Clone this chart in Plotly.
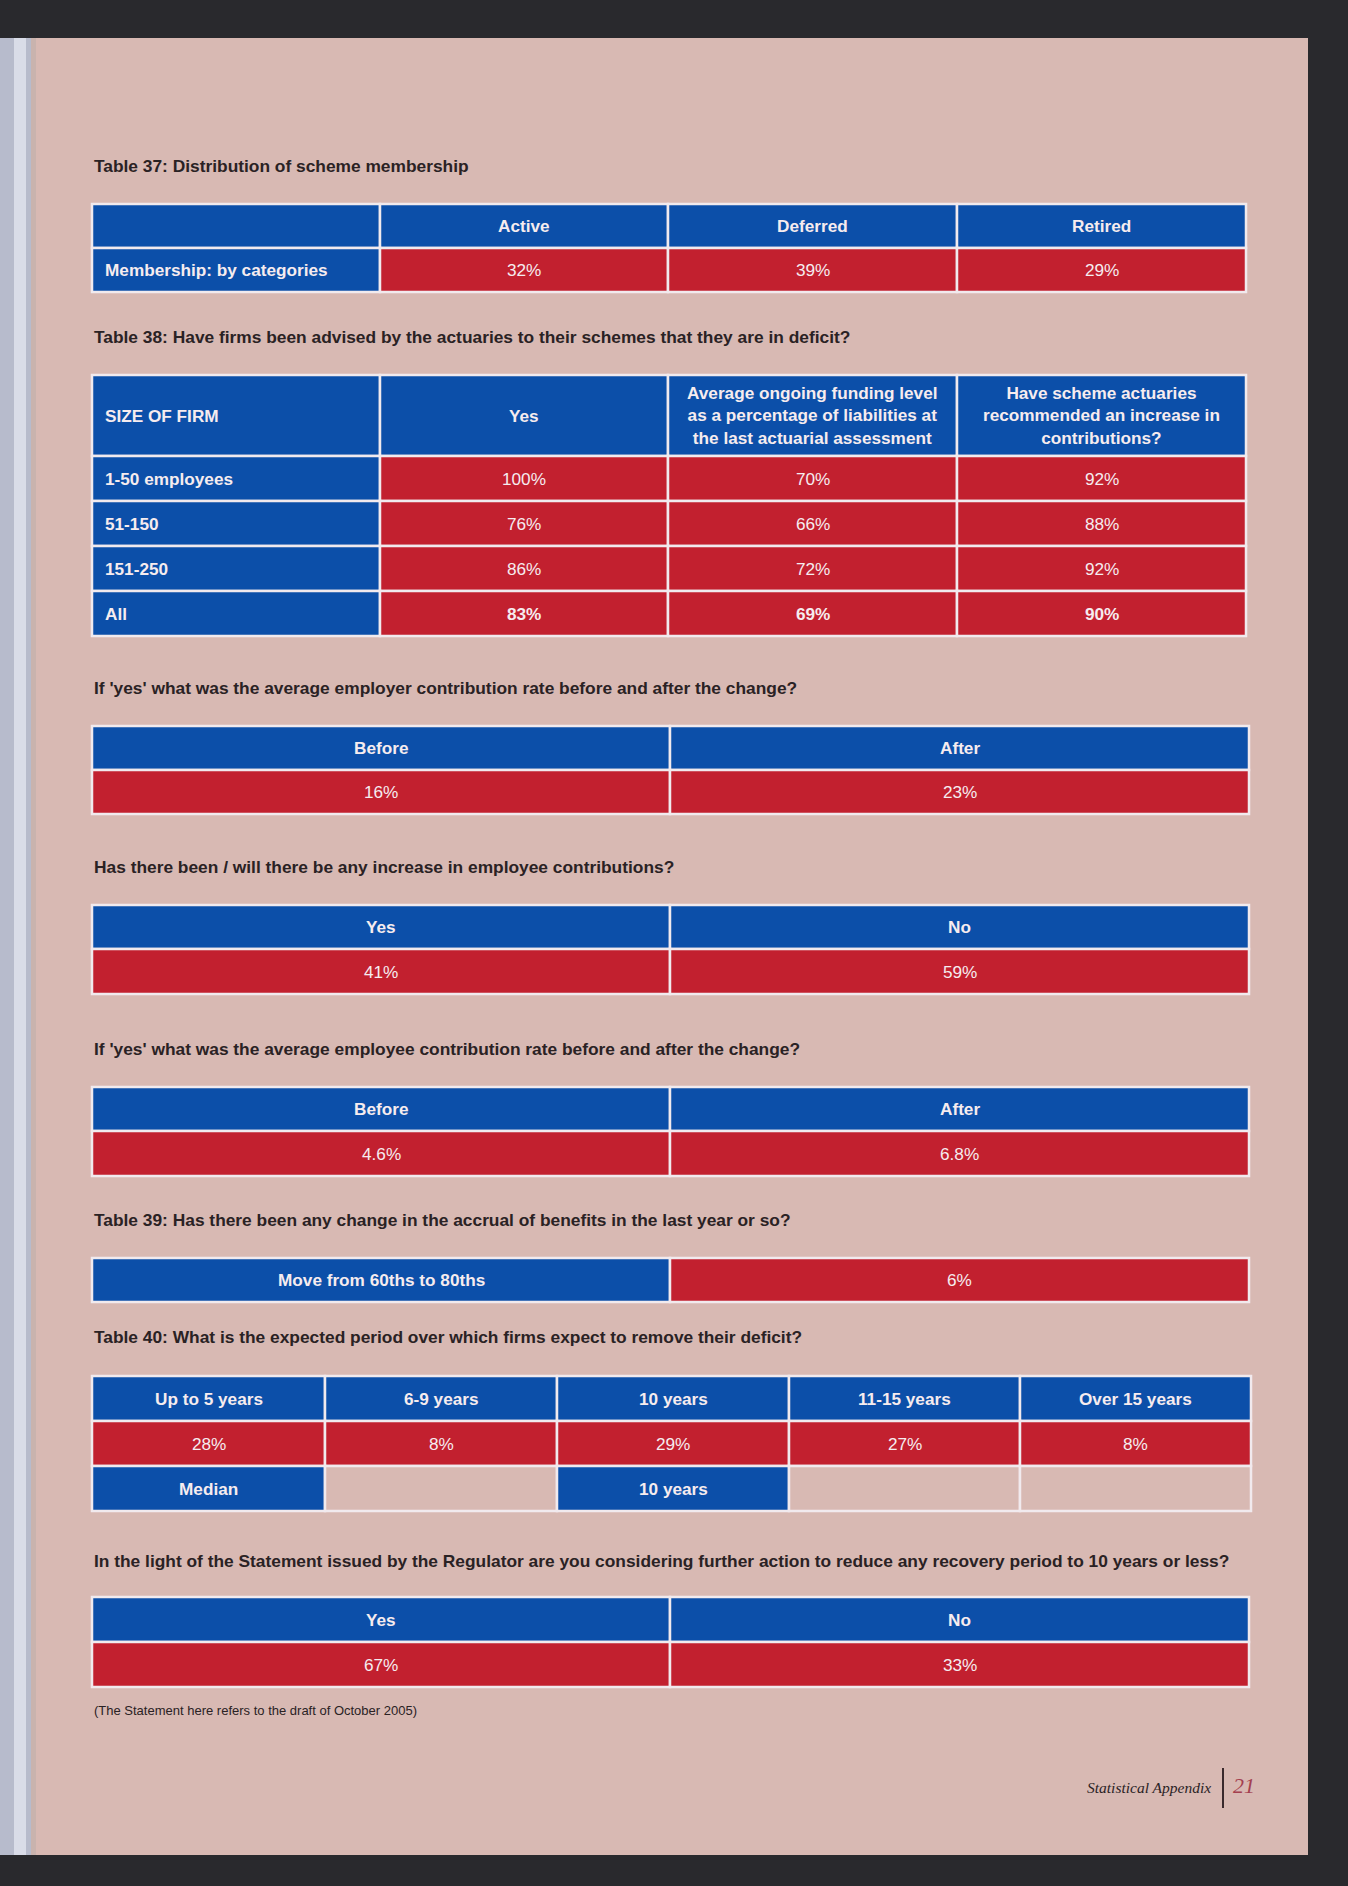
import plotly.graph_objects as go

# ---- data -------------------------------------------------------------------
t37_title = "Table 37: Distribution of scheme membership"
t37_cols = ["Active", "Deferred", "Retired"]
t37_row = "Membership: by categories"
t37_vals = [32, 39, 29]

t38_title = "Table 38: Have firms been advised by the actuaries to their schemes that they are in deficit?"
t38_head = ["SIZE OF FIRM", "Yes",
            "Average ongoing funding level<br>as a percentage of liabilities at<br>the last actuarial assessment",
            "Have scheme actuaries<br>recommended an increase in<br>contributions?"]
t38_sizes = ["1-50 employees", "51-150", "151-250", "All"]
t38_yes = [100, 76, 86, 83]
t38_funding = [70, 66, 72, 69]
t38_increase = [92, 88, 92, 90]

employer_q = "If 'yes' what was the average employer contribution rate before and after the change?"
employer_cols = ["Before", "After"]
employer_rate = [16, 23]

incr_q = "Has there been / will there be any increase in employee contributions?"
incr_cols = ["Yes", "No"]
incr_vals = [41, 59]

employee_q = "If 'yes' what was the average employee contribution rate before and after the change?"
employee_cols = ["Before", "After"]
employee_rate = [4.6, 6.8]

t39_title = "Table 39: Has there been any change in the accrual of benefits in the last year or so?"
t39_label = "Move from 60ths to 80ths"
t39_val = 6

t40_title = "Table 40: What is the expected period over which firms expect to remove their deficit?"
t40_periods = ["Up to 5 years", "6-9 years", "10 years", "11-15 years", "Over 15 years"]
t40_shares = [28, 8, 29, 27, 8]
t40_median = "10 years"

reg_q = ("In the light of the Statement issued by the Regulator are you considering "
         "further action to reduce any recovery period to 10 years or less?")
reg_cols = ["Yes", "No"]
reg_vals = [67, 33]

footnote = "(The Statement here refers to the draft of October 2005)"

# ---- styling ----------------------------------------------------------------
W, H = 1348, 1886
DARK = "#29292d"
PAGE = "#d8b9b3"
BLUE = "#0c4fa9"
RED = "#c2202f"
EDGE = "#f1eaee"
CELL_TXT = "#f6ecef"
INK = "#2a2224"
SANS = "Liberation Sans, Arial, Helvetica, sans-serif"
SERIF = "Liberation Serif, Times New Roman, serif"

fig = go.Figure()
shapes = []
notes = []


def pct(v, bold=False):
    s = f"{v:g}%"
    return f"<b>{s}</b>" if bold else s


def heading(text, y):
    notes.append(dict(x=92, y=y, text=f"<b>{text}</b>", xanchor="left", yanchor="middle",
                      showarrow=False, font=dict(family=SANS, size=17.35, color=INK)))


def table(top, cols, heights, rows):
    """rows: list of rows, each a list of (text, fill, align) per column."""
    y0 = top
    for h, row in zip(heights, rows):
        for i, (txt, fill, align) in enumerate(row):
            x0, x1 = cols[i], cols[i + 1]
            shapes.append(dict(type="rect", x0=x0, x1=x1, y0=y0, y1=y0 + h,
                               fillcolor=fill, line=dict(color=EDGE, width=2.5), layer="above"))
            if txt:
                if align == "left":
                    tx, anc = x0 + 11, "left"
                else:
                    tx, anc = (x0 + x1) / 2, "center"
                notes.append(dict(x=tx, y=y0 + h / 2, text=txt, xanchor=anc, yanchor="middle",
                                  showarrow=False, align="center",
                                  font=dict(family=SANS, size=17.2, color=CELL_TXT)))
        y0 += h


# page, dark surround, binding strip
shapes.append(dict(type="rect", x0=35, x1=1308, y0=38, y1=1855, fillcolor=PAGE, line_width=0, layer="below"))
shapes.append(dict(type="rect", x0=0, x1=34, y0=38, y1=1855, fillcolor="#b7bbcc", line_width=0, layer="below"))
shapes.append(dict(type="rect", x0=14, x1=26, y0=38, y1=1855, fillcolor="#d9dce8", line_width=0, layer="below"))
shapes.append(dict(type="rect", x0=31, x1=36, y0=38, y1=1855, fillcolor="#c9b3ae", line_width=0, layer="below"))

cols4 = [92, 380, 668, 957, 1246]
cols2 = [92, 670, 1249]
cols5 = [92, 325, 557, 789, 1020, 1251]

# Table 37
heading(t37_title, 166)
table(204, cols4, [44, 44], [
    [("", BLUE, "c")] + [(f"<b>{c}</b>", BLUE, "c") for c in t37_cols],
    [(f"<b>{t37_row}</b>", BLUE, "left")] + [(pct(v), RED, "c") for v in t37_vals],
])

# Table 38
heading(t38_title, 337)
t38_rows = [[(f"<b>{t}</b>", BLUE, "left" if i == 0 else "c") for i, t in enumerate(t38_head)]]
for k, size in enumerate(t38_sizes):
    last = k == len(t38_sizes) - 1
    t38_rows.append([(f"<b>{size}</b>", BLUE, "left"),
                     (pct(t38_yes[k], last), RED, "c"),
                     (pct(t38_funding[k], last), RED, "c"),
                     (pct(t38_increase[k], last), RED, "c")])
table(375, cols4, [81, 45, 45, 45, 45], t38_rows)

# employer rate
heading(employer_q, 688)
table(726, cols2, [44, 44], [
    [(f"<b>{c}</b>", BLUE, "c") for c in employer_cols],
    [(pct(v), RED, "c") for v in employer_rate],
])

# employee increase
heading(incr_q, 867)
table(905, cols2, [44, 45], [
    [(f"<b>{c}</b>", BLUE, "c") for c in incr_cols],
    [(pct(v), RED, "c") for v in incr_vals],
])

# employee rate
heading(employee_q, 1049)
table(1087, cols2, [44, 45], [
    [(f"<b>{c}</b>", BLUE, "c") for c in employee_cols],
    [(pct(v), RED, "c") for v in employee_rate],
])

# Table 39
heading(t39_title, 1220)
table(1258, cols2, [44], [
    [(f"<b>{t39_label}</b>", BLUE, "c"), (pct(t39_val), RED, "c")],
])

# Table 40
heading(t40_title, 1337)
table(1376, cols5, [45, 45, 45], [
    [(f"<b>{p}</b>", BLUE, "c") for p in t40_periods],
    [(pct(v), RED, "c") for v in t40_shares],
    [("<b>Median</b>", BLUE, "c"), ("", PAGE, "c"), (f"<b>{t40_median}</b>", BLUE, "c"),
     ("", PAGE, "c"), ("", PAGE, "c")],
])

# Regulator statement
heading(reg_q, 1561)
table(1597, cols2, [45, 45], [
    [(f"<b>{c}</b>", BLUE, "c") for c in reg_cols],
    [(pct(v), RED, "c") for v in reg_vals],
])

notes.append(dict(x=92, y=1710, text=footnote, xanchor="left", yanchor="middle", showarrow=False,
                  font=dict(family=SANS, size=13, color=INK)))

# page footer
notes.append(dict(x=1213, y=1787, text="<i>Statistical Appendix</i>", xanchor="right", yanchor="middle",
                  showarrow=False, font=dict(family=SERIF, size=15.5, color="#2b2326")))
shapes.append(dict(type="line", x0=1223, x1=1223, y0=1768, y1=1808, line=dict(color="#3a2a2d", width=2)))
notes.append(dict(x=1231, y=1785, text="<i>21</i>", xanchor="left", yanchor="middle",
                  showarrow=False, font=dict(family=SERIF, size=22, color="#a4404f")))

fig.update_layout(
    width=W, height=H, margin=dict(l=0, r=0, t=0, b=0),
    paper_bgcolor=DARK, plot_bgcolor=DARK, showlegend=False,
    shapes=shapes, annotations=notes,
)
fig.update_xaxes(range=[0, W], visible=False, fixedrange=True)
fig.update_yaxes(range=[H, 0], visible=False, fixedrange=True)

fig.write_html("out.html", config={"displayModeBar": False},
               post_script="document.body.style.margin='0';document.body.style.overflow='hidden';")
